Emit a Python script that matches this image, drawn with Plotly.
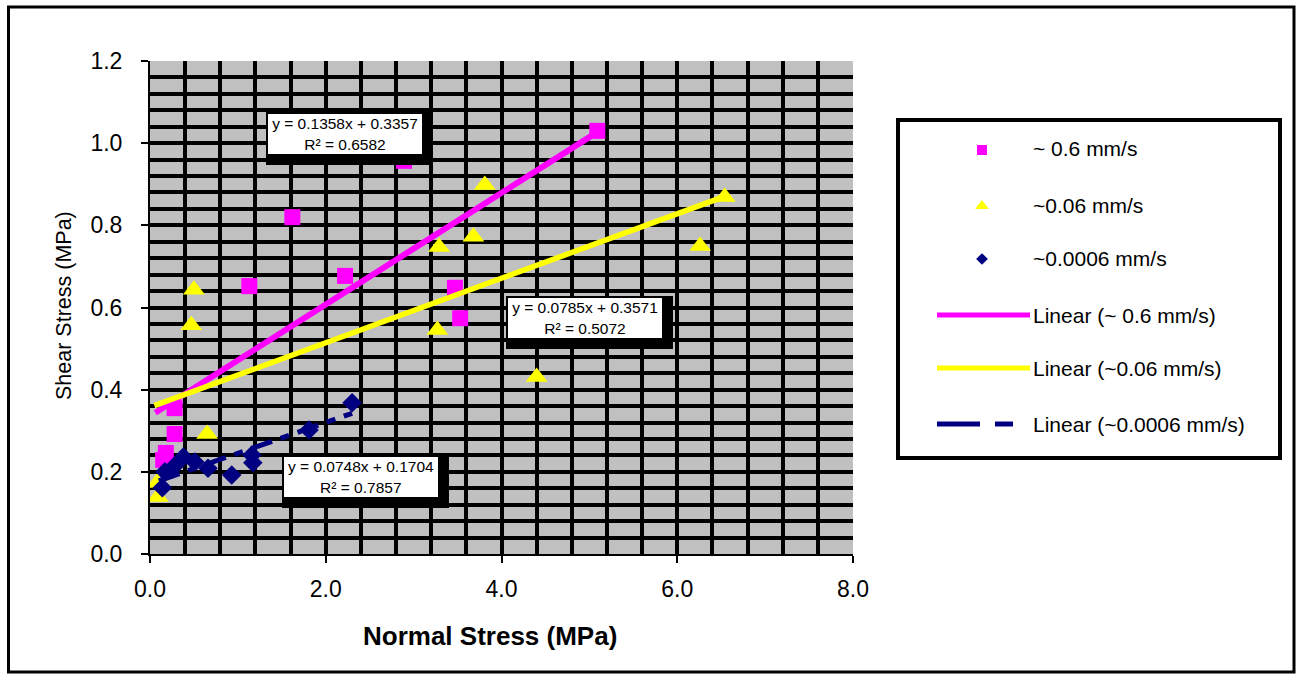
import plotly.graph_objects as go

# ---------------- data ----------------
series_names = ["~ 0.6 mm/s", "~0.06 mm/s", "~0.0006 mm/s"]
series_colors = ["#FF00FF", "#FFFF00", "#000080"]

fast_x = [5.09, 2.89, 1.62, 1.13, 2.22, 3.47, 3.53, 0.28, 0.28, 0.18, 0.15]
fast_y = [1.030, 0.957, 0.820, 0.652, 0.677, 0.648, 0.574, 0.355, 0.292, 0.246, 0.229]

mid_x = [6.54, 6.26, 3.81, 3.68, 3.29, 3.27, 4.40, 0.50, 0.47, 0.65, 0.09, 0.08]
mid_y = [0.869, 0.750, 0.898, 0.772, 0.747, 0.545, 0.431, 0.643, 0.557, 0.292, 0.139, 0.173]

slow_x = [2.30, 1.81, 1.16, 1.17, 0.93, 0.66, 0.51, 0.38, 0.28, 0.17, 0.14]
slow_y = [0.368, 0.302, 0.241, 0.222, 0.192, 0.209, 0.224, 0.236, 0.214, 0.200, 0.161]

trend_slopes = [0.1358, 0.0785, 0.0748]
trend_intercepts = [0.3357, 0.3571, 0.1704]
trend_r2 = [0.6582, 0.5072, 0.7857]
trend_x_start = [0.06, 0.05, 0.10]
trend_x_end = [5.09, 6.54, 2.30]

x_tick_vals = [0, 2, 4, 6, 8]
y_tick_vals = [0.0, 0.2, 0.4, 0.6, 0.8, 1.0, 1.2]

x_title = "Normal Stress (MPa)"
y_title = "Shear Stress (MPa)"

# ---------------- layout helpers ----------------
W, H = 1297, 675
FONT = "Liberation Sans, Arial, sans-serif"


def fx(px):
    return px / W


def fy(py):
    return 1 - py / H


PLOT_L, PLOT_R, PLOT_T, PLOT_B = 150, 853, 61, 554
LEG_L, LEG_R, LEG_T, LEG_B = 898, 1280, 120, 458

fig = go.Figure()

xs = [fast_x, mid_x, slow_x]
ys = [fast_y, mid_y, slow_y]
symbols = ["square", "triangle-up", "diamond"]
sizes = [16, 19, 15]

for i in range(3):
    fig.add_trace(go.Scatter(
        x=xs[i], y=ys[i], mode="markers", name=series_names[i],
        marker=dict(symbol=symbols[i], size=sizes[i], color=series_colors[i],
                    line=dict(width=0)),
        showlegend=False))

trend_widths = [6, 5.5, 5]
trend_dash = ["solid", "solid", "22px,9px,9px,9px"]
for i in range(3):
    x0, x1 = trend_x_start[i], trend_x_end[i]
    fig.add_trace(go.Scatter(
        x=[x0, x1],
        y=[trend_slopes[i] * x0 + trend_intercepts[i], trend_slopes[i] * x1 + trend_intercepts[i]],
        mode="lines", name="Linear (" + series_names[i] + ")",
        line=dict(color=series_colors[i], width=trend_widths[i], dash=trend_dash[i]),
        showlegend=False))

# ---------------- legend (drawn on a hidden pixel-space subplot) ----------------
leg_marker_y = [150, 206, 259]
leg_marker_sizes = [10, 12, 9]
for i in range(3):
    fig.add_trace(go.Scatter(
        x=[982], y=[leg_marker_y[i]], mode="markers", xaxis="x2", yaxis="y2",
        marker=dict(symbol=symbols[i], size=leg_marker_sizes[i], color=series_colors[i]),
        showlegend=False, hoverinfo="skip"))

leg_line_y = [315, 368, 424]
for i in range(2):
    fig.add_trace(go.Scatter(
        x=[937, 1030], y=[leg_line_y[i]] * 2, mode="lines", xaxis="x2", yaxis="y2",
        line=dict(color=series_colors[i], width=5), showlegend=False, hoverinfo="skip"))
fig.add_trace(go.Scatter(
    x=[937, 980, None, 995, 1013], y=[leg_line_y[2]] * 2 + [None] + [leg_line_y[2]] * 2,
    mode="lines", xaxis="x2", yaxis="y2",
    line=dict(color=series_colors[2], width=5), showlegend=False, hoverinfo="skip"))

leg_text_y = [149, 205, 258, 315, 368, 424]
leg_labels = series_names + ["Linear (" + n + ")" for n in series_names]

annotations = []
for t, yy in zip(leg_labels, leg_text_y):
    annotations.append(dict(
        text=t, xref="paper", yref="paper", x=fx(1031), y=fy(yy),
        xanchor="left", yanchor="middle", showarrow=False,
        font=dict(family=FONT, size=21, color="black")))

# ---------------- equation boxes ----------------
eq_boxes = [  # (left, top, right, bottom) in px of white box
    (266, 112, 424, 156),
    (506, 296, 664, 340),
    (282, 455, 440, 499),
]
shapes = []
for i, (l, t, r, b) in enumerate(eq_boxes):
    shapes.append(dict(type="rect", xref="paper", yref="paper",
                       x0=fx(l), x1=fx(r + 9), y0=fy(t), y1=fy(b + 9),
                       fillcolor="black", line=dict(width=0), layer="above"))
    annotations.append(dict(
        text="y = %.4fx + %.4f<br>R² = %.4f" % (trend_slopes[i], trend_intercepts[i], trend_r2[i]),
        xref="paper", yref="paper", x=fx((l + r) / 2), y=fy((t + b) / 2),
        xanchor="center", yanchor="middle", showarrow=False,
        width=(r - l) - 8, height=(b - t) - 8, borderpad=2, borderwidth=2,
        bordercolor="black", bgcolor="white", align="center",
        font=dict(family=FONT, size=15.5, color="black")))

# axis titles
annotations.append(dict(text="<b>" + x_title + "</b>", xref="paper", yref="paper",
                        x=fx(490), y=fy(636), xanchor="center", yanchor="middle",
                        showarrow=False, font=dict(family=FONT, size=26, color="black")))
annotations.append(dict(text=y_title, xref="paper", yref="paper",
                        x=fx(64), y=fy(306), xanchor="center", yanchor="middle",
                        textangle=-90, showarrow=False,
                        font=dict(family=FONT, size=21.5, color="black")))

# plot area background (below grid)
shapes.append(dict(type="rect", xref="x", yref="y", x0=0, x1=8, y0=0, y1=1.2,
                   fillcolor="#C0C0C0", line=dict(width=0), layer="below"))
# legend frame
shapes.append(dict(type="rect", xref="paper", yref="paper",
                   x0=fx(LEG_L), x1=fx(LEG_R), y0=fy(LEG_T), y1=fy(LEG_B),
                   fillcolor="white", line=dict(color="black", width=4), layer="below"))
# outer chart frame
shapes.append(dict(type="rect", xref="paper", yref="paper",
                   x0=fx(8.5), x1=fx(1294), y0=fy(7), y1=fy(672),
                   fillcolor="rgba(0,0,0,0)", line=dict(color="black", width=3), layer="below"))

fig.update_layout(
    template="none",
    width=W, height=H, autosize=False,
    margin=dict(l=0, r=0, t=0, b=0, pad=0, autoexpand=False),
    paper_bgcolor="white", plot_bgcolor="rgba(0,0,0,0)",
    font=dict(family=FONT, color="black"),
    showlegend=False,
    xaxis=dict(domain=[fx(PLOT_L), fx(PLOT_R)], range=[0, 8], tickvals=x_tick_vals,
               tickformat=".1f", ticks="outside", ticklen=7, tickwidth=2, tickcolor="black",
               showline=True, linecolor="black", linewidth=2, zeroline=False, automargin=False,
               showgrid=True, gridcolor="black", gridwidth=4,
               minor=dict(dtick=0.4, showgrid=True, gridcolor="black", gridwidth=4, ticks=""),
               tickfont=dict(family=FONT, size=23, color="black"), ticklabelstandoff=6,
               fixedrange=True),
    yaxis=dict(domain=[fy(PLOT_B), fy(PLOT_T)], range=[0, 1.2], tickvals=y_tick_vals,
               tickformat=".1f", ticks="outside", ticklen=7, tickwidth=2, tickcolor="black",
               showline=True, linecolor="black", linewidth=2, zeroline=False, automargin=False,
               showgrid=True, gridcolor="black", gridwidth=3.5,
               minor=dict(dtick=0.04, showgrid=True, gridcolor="black", gridwidth=3.5, ticks=""),
               tickfont=dict(family=FONT, size=23, color="black"), ticklabelstandoff=14,
               fixedrange=True),
    xaxis2=dict(domain=[fx(LEG_L), fx(LEG_R)], range=[LEG_L, LEG_R], visible=False,
                anchor="y2", fixedrange=True, automargin=False),
    yaxis2=dict(domain=[fy(LEG_B), fy(LEG_T)], range=[LEG_B, LEG_T], visible=False,
                anchor="x2", fixedrange=True, automargin=False),
    shapes=shapes,
    annotations=annotations,
)

fig.write_html(
    "out.html",
    config={"displayModeBar": False},
    post_script="document.body.style.margin='0';document.body.style.padding='0';"
                "document.body.style.overflow='hidden';",
)
